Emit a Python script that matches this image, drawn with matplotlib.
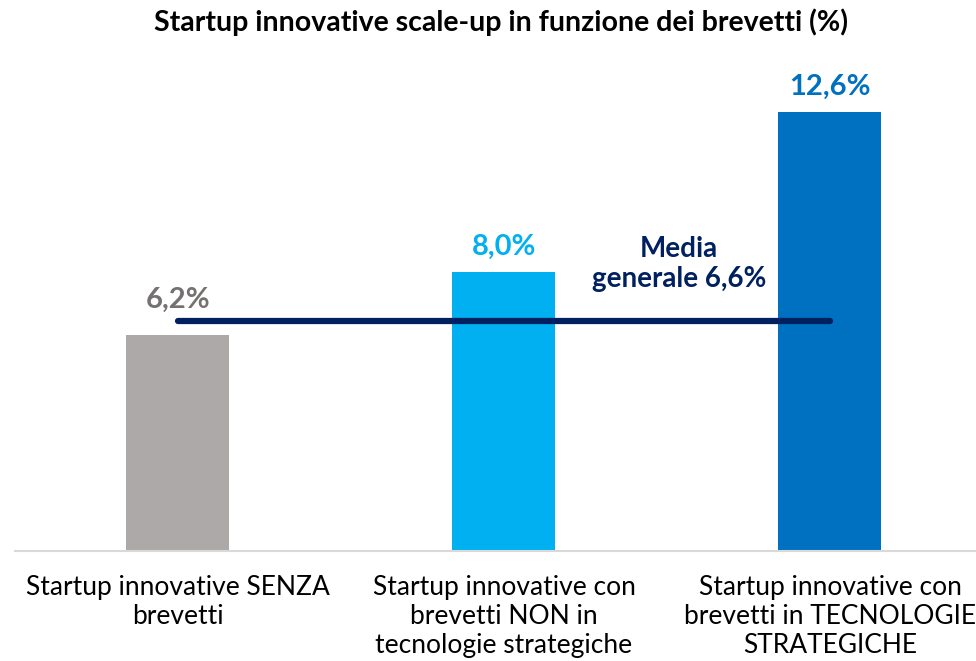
import matplotlib
matplotlib.use("Agg")
import matplotlib.pyplot as plt

plt.rcParams['font.family'] = ['Lato', 'DejaVu Sans']

categories = ["Startup innovative SENZA\nbrevetti",
              "Startup innovative con\nbrevetti NON in\ntecnologie strategiche",
              "Startup innovative con\nbrevetti in TECNOLOGIE\nSTRATEGICHE"]
values = [6.2, 8.0, 12.6]
value_labels = ["6,2%", "8,0%", "12,6%"]
media = 6.6
media_label = "Media\ngenerale 6,6%"
title = "Startup innovative scale-up in funzione dei brevetti (%)"

bar_colors = ["#ADA9A8", "#00B0F0", "#0070C0"]
label_colors = ["#767171", "#00B0F0", "#0070C0"]
navy = "#002060"

fig = plt.figure(figsize=(9.76, 6.61), dpi=100)
ax = fig.add_axes([15/976, 110/661, 961/976, (551-50)/661])
x = list(range(len(values)))
ax.bar(x, values, width=0.316, color=bar_colors, zorder=2)
ax.set_xlim(-0.5, 2.448)
ax.set_ylim(0, (551-50)/34.84)

ax.plot([0, 2], [media, media], color=navy, lw=4.5, solid_capstyle='round', zorder=3)

offsets = [16, 9, 9]
for xi, v, lab, c, off in zip(x, values, value_labels, label_colors, offsets):
    ax.annotate(lab, (xi, v), xytext=(0, off), textcoords='offset points',
                ha='center', va='bottom', fontsize=21, fontweight='bold', color=c)

ax.text(1.537, 8.24, media_label, ha='center', va='center', fontsize=20,
        fontweight='bold', color=navy, linespacing=1.17)

for s in ['top', 'right', 'left']:
    ax.spines[s].set_visible(False)
ax.spines['bottom'].set_color('#D9D9D9')
ax.spines['bottom'].set_linewidth(1.5)
ax.set_yticks([])
ax.set_xticks(x)
ax.set_xticklabels(categories, fontsize=19, linespacing=1.2, color='#000000')
ax.tick_params(axis='x', length=0, pad=17)

fig.text(0.513, 1 - 22/661, title, ha='center', va='center', fontsize=20.5,
         fontweight='bold', color='#000000')

fig.savefig("out.png", dpi=100)
